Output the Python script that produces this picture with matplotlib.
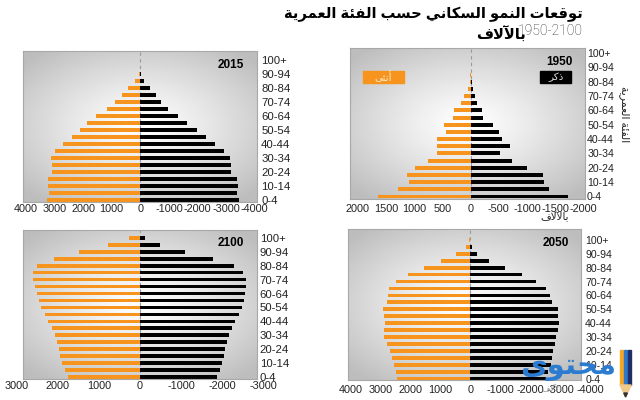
import numpy as np
import matplotlib
matplotlib.use('Agg')
import matplotlib.pyplot as plt
from matplotlib.patches import Rectangle, Polygon
from matplotlib.transforms import blended_transform_factory

plt.rcParams['font.family'] = ['Liberation Sans', 'DejaVu Sans']
plt.rcParams['axes.unicode_minus'] = False

# age groups 0-4 ... 100+ (21 groups), labelled every other one
age_labels = ['0-4', '10-14', '20-24', '30-34', '40-44', '50-54',
              '60-64', '70-74', '80-84', '90-94', '100+']

# thousands, bottom (0-4) to top (100+)
female_1950 = [1640, 1280, 1100, 1125, 980, 755, 590, 605, 595, 440, 470,
               320, 295, 165, 125, 40, 17, 6, 0, 0, 0]
male_1950 = [1730, 1390, 1310, 1290, 1000, 735, 530, 695, 560, 505, 395,
             220, 200, 105, 80, 40, 30, 6, 0, 0, 0]
female_2015 = [3260, 3200, 3220, 3230, 3070, 3090, 3115, 2965, 2705, 2375,
               2115, 1870, 1550, 1165, 880, 645, 445, 200, 45, 20, 5]
male_2015 = [3455, 3375, 3400, 3385, 3185, 3165, 3140, 2940, 2620, 2295,
             1985, 1645, 1305, 975, 740, 540, 330, 120, 25, 5, 0]
female_2050 = [2440, 2500, 2560, 2620, 2675, 2780, 2890, 2880, 2860, 2890,
               2915, 2770, 2750, 2705, 2475, 2090, 1540, 990, 475, 145, 40]
male_2050 = [2530, 2600, 2700, 2730, 2770, 2830, 2880, 2940, 2950, 2930,
             2930, 2730, 2660, 2530, 2210, 1715, 1155, 615, 210, 45, 5]
female_2100 = [1760, 1835, 1900, 1940, 1970, 2020, 2080, 2150, 2235, 2325,
               2405, 2455, 2520, 2565, 2610, 2615, 2500, 2105, 1485, 780, 260]
male_2100 = [1875, 1940, 2005, 2045, 2080, 2120, 2170, 2235, 2315, 2405,
             2480, 2525, 2565, 2590, 2575, 2520, 2300, 1785, 1100, 480, 120]

ticks_1950 = [2000, 1500, 1000, 500, 0, -500, -1000, -1500, -2000]
ticks_4000 = [4000, 3000, 2000, 1000, 0, -1000, -2000, -3000, -4000]
ticks_3000 = [3000, 2000, 1000, 0, -1000, -2000, -3000]

ORANGE = '#f7941d'

# --- minimal arabic shaping (matplotlib has no RTL / joining support) ---
LETTERS = 'ءآأؤإئابةتثجحخدذرزسشصضطظعغفقكلمنهوىي'
NFORMS = [1, 2, 2, 2, 2, 4, 2, 4, 2, 4, 4, 4, 4, 4, 2, 2, 2, 2, 4, 4, 4, 4,
          4, 4, 4, 4, 4, 4, 4, 4, 4, 4, 4, 2, 2, 4]
BASE = {}
_cp = 0xFE80
for _ch, _n in zip(LETTERS, NFORMS):
    BASE[_ch] = (_cp, _n)
    _cp += _n
LAMALEF = {'آ': 0xFEF5, 'أ': 0xFEF7, 'إ': 0xFEF9, 'ا': 0xFEFB}


def ar(text):
    chars = []
    i = 0
    while i < len(text):
        if text[i] == 'ل' and i + 1 < len(text) and text[i + 1] in LAMALEF:
            chars.append(('la', text[i + 1]))
            i += 2
        else:
            chars.append(text[i])
            i += 1

    def is_letter(c):
        return isinstance(c, tuple) or c in BASE

    def dual(c):
        return isinstance(c, str) and c in BASE and BASE[c][1] == 4

    out = []
    for k, c in enumerate(chars):
        prev = chars[k - 1] if k > 0 else None
        nxt = chars[k + 1] if k + 1 < len(chars) else None
        jp = prev is not None and dual(prev)
        if isinstance(c, tuple):
            out.append(chr(LAMALEF[c[1]] + (1 if jp else 0)))
            continue
        if c not in BASE:
            out.append(c)
            continue
        start, n = BASE[c]
        jn = n == 4 and nxt is not None and is_letter(nxt)
        if n == 1:
            form = 0
        elif n == 2:
            form = 1 if jp else 0
        else:
            form = {(False, False): 0, (True, False): 1,
                    (False, True): 2, (True, True): 3}[(jp, jn)]
        out.append(chr(start + form))
    return ''.join(reversed(out))


fig = plt.figure(figsize=(6.4, 4.0), dpi=100)

gx, gy = np.meshgrid(np.linspace(-1, 1, 240), np.linspace(-1, 1, 160))
shade = 1 - 0.26 * np.clip(np.hypot(gx, gy * 1.05) / 1.35, 0, 1) ** 1.2


def px_rect(x0, y0, x1, y1):
    return [x0 / 640, 1 - y1 / 400, (x1 - x0) / 640, (y1 - y0) / 400]


def draw_panel(rect, year, female, male, xlim, ylim, ticks, lab_y, pad=3,
               ysize=7.6):
    bg = fig.add_axes(rect, zorder=0)
    bg.imshow(shade, extent=(0, 1, 0, 1), aspect='auto', cmap='gray',
              vmin=0, vmax=1, interpolation='bilinear')
    bg.axis('off')

    ax = fig.add_axes(rect, zorder=1)
    ax.patch.set_alpha(0)
    y = np.arange(len(female))
    ax.axvline(0, color='#9a9a9a', lw=0.8, ls=(0, (3, 3)), zorder=0)
    ax.barh(y, female, height=0.55, color=ORANGE, zorder=2)
    ax.barh(y, -np.array(male), height=0.55, color='black', zorder=2)
    ax.set_xlim(xlim)
    ax.set_ylim(ylim)
    ax.yaxis.tick_right()
    ax.set_yticks(y[::2])
    ax.set_yticklabels(age_labels)
    ax.tick_params(axis='y', length=0, pad=pad, labelsize=ysize, colors='#222')
    ax.set_xticks([])
    for s in ax.spines.values():
        s.set_color('#a8a8a8')
        s.set_linewidth(0.8)
    trans = blended_transform_factory(ax.transData, ax.transAxes)
    for t in ticks:
        ax.text(t, lab_y, str(t), transform=trans, ha='center', va='top',
                fontsize=7.8, color='#222', clip_on=False)
    ax.text(0.89, 0.91, year, transform=ax.transAxes, ha='center',
            va='center', fontsize=8.5, fontweight='bold')
    return ax


ax15 = draw_panel(px_rect(23, 51, 257, 202), '2015', female_2015, male_2015,
                  (4100, -4080), (-0.3, 21.3), ticks_4000, -0.01, ysize=8.2)
ax50 = draw_panel(px_rect(350, 48, 585, 199), '1950', female_1950, male_1950,
                  (2140, -2030), (-0.35, 20.7), ticks_1950, -0.03, pad=1.5)
ax00 = draw_panel(px_rect(23, 230, 257, 379), '2100', female_2100, male_2100,
                  (2850, -2850), (-0.25, 21.1), ticks_3000, -0.015,
                  pad=2, ysize=8.2)
ax25 = draw_panel(px_rect(348, 229, 581, 380), '2050', female_2050, male_2050,
                  (4090, -3700), (-0.15, 21.55), ticks_4000, -0.035)

# legend boxes inside the 1950 panel
ax50.add_patch(Rectangle((0.055, 0.765), 0.175, 0.08, transform=ax50.transAxes,
                         color=ORANGE, zorder=3))
ax50.text(0.1425, 0.805, ar('أنثى'), transform=ax50.transAxes, ha='center',
          va='center', color='#fde9cc', fontsize=7.5, zorder=4)
ax50.add_patch(Rectangle((0.81, 0.765), 0.13, 0.08, transform=ax50.transAxes,
                         color='black', zorder=3))
ax50.text(0.875, 0.805, ar('ذكر'), transform=ax50.transAxes, ha='center',
          va='center', color='#dddddd', fontsize=7.5, zorder=4)

# titles
fig.text(0.911, 0.965, ar('توقعات النمو السكاني حسب الفئة العمرية'),
         ha='right', va='center', fontsize=10.6, fontweight='bold')
fig.text(0.911, 0.922, '1950-2100', ha='right', va='center', fontsize=10,
         color='#2e2e2e', family='Roboto', fontweight='light')
fig.text(0.822, 0.913, ar('بالآلاف'), ha='right', va='center', fontsize=10.5,
         fontweight='bold')
fig.text(0.975, 0.714, ar('الفئة العمرية'), rotation=270, ha='center',
         va='center', fontsize=7.8, color='#222')
fig.text(0.867, 0.458, ar('بالآلاف'), ha='center', va='center', fontsize=7.5,
         color='#222')
fig.text(0.864, 0.027, ar('بالآلاف'), ha='center', va='center', fontsize=6,
         color='#999999')

# watermark
fig.text(0.962, 0.083, ar('محتوى'), ha='right', va='center', fontsize=21,
         fontweight='bold', color='#2b7bd0', zorder=10)
for x0, c in [(620, '#f5a623'), (624, '#2f78c8'), (628, '#1f2f66')]:
    fig.add_artist(Rectangle((x0 / 640, 1 - 385 / 400), 3.2 / 640, 35 / 400,
                             transform=fig.transFigure, color=c, zorder=10))
fig.add_artist(Polygon([(620 / 640, 1 - 385 / 400), (631.2 / 640, 1 - 385 / 400),
                        (625.6 / 640, 1 - 397 / 400)], closed=True,
                       transform=fig.transFigure, color='#f1c98b', zorder=10))
fig.add_artist(Polygon([(623.8 / 640, 1 - 393 / 400), (627.4 / 640, 1 - 393 / 400),
                        (625.6 / 640, 1 - 397 / 400)], closed=True,
                       transform=fig.transFigure, color='#333333', zorder=11))

fig.savefig('out.png', dpi=100, facecolor='white')
